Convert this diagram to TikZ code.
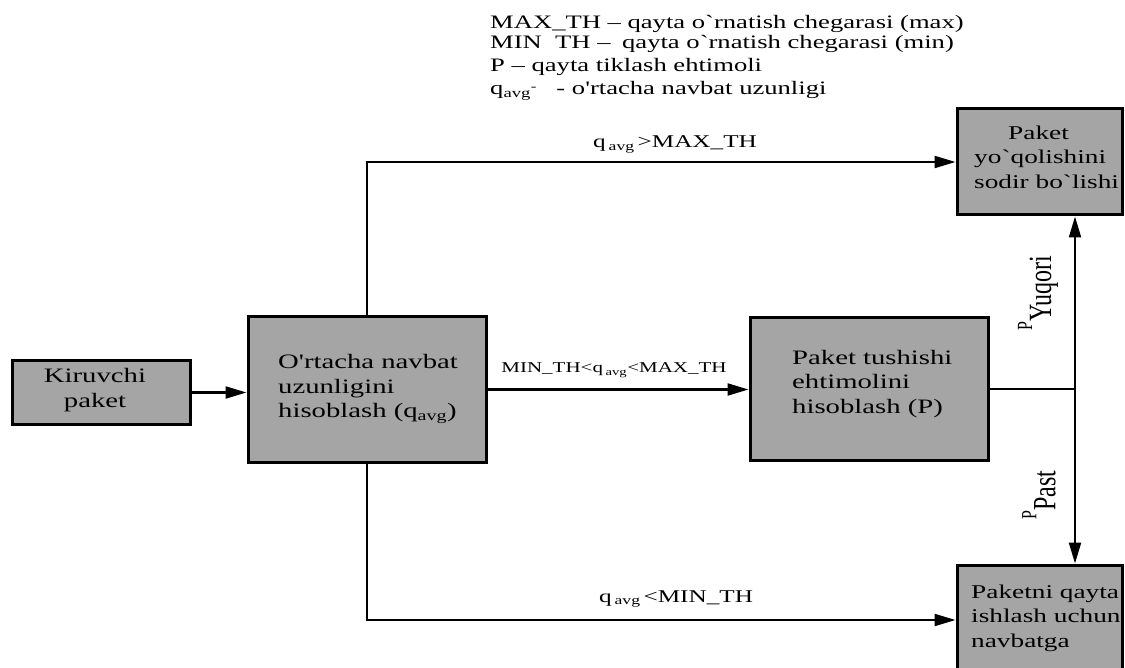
\documentclass[tikz,border=0pt]{standalone}
\usepackage{fontspec}
\usepackage{graphicx}
\setmainfont{Liberation Serif}[FakeStretch=1.4, Ligatures=TeXOff]
\newfontfamily\plainserif{Liberation Serif}[Ligatures=TeXOff]
\usetikzlibrary{arrows.meta}
\definecolor{boxgray}{RGB}{165,165,165}

\begin{document}
\begin{tikzpicture}[x=1pt, y=-1pt,
  box/.style={draw=black, line width=3pt, fill=boxgray, inner sep=0pt},
  boxtext/.style={inner sep=0pt, align=left, font=\fontsize{20.5}{24.5}\selectfont},
  sidetext/.style={boxtext, font=\fontsize{19.5}{24.5}\selectfont},
  legend/.style={inner sep=0pt, anchor=base west, font=\fontsize{19}{21}\selectfont},
  cond/.style={inner sep=0pt, anchor=base, font=\fontsize{18}{20}\selectfont},
  link/.style={line width=2.2pt},
  arr/.style={link, -{Triangle[length=21pt, width=12pt]}},
  problabel/.style={inner sep=0pt, rotate=90}
]
\path[use as bounding box, clip] (0,0) rectangle (1125,668);

% legend
\node[legend] (l1) at (490,29) {MAX\_TH – qayta o`rnatish chegarasi (max)};
\node[legend] (l2) at (490,49) {\makebox[132pt][l]{MIN\ \ TH –}qayta o`rnatish chegarasi (min)};
\node[legend] (l3) at (490,72) {P – qayta tiklash ehtimoli};
\node[legend] (l4) at (490,95) {q\textsubscript{avg}\raisebox{4pt}{\fontsize{12}{12}\selectfont -}\hspace{20pt}- o'rtacha navbat uzunligi};

% boxes
\node[box, minimum width=178pt, minimum height=63pt]  (k) at (101,392.5) {};
\node[box, minimum width=238pt, minimum height=145pt] (o) at (367,389.5) {};
\node[box, minimum width=238pt, minimum height=142pt] (p) at (869,389) {};
\node[box, minimum width=165pt, minimum height=106pt] (t) at (1039.5,162) {};
\node[box, minimum width=165pt, minimum height=110pt] (b) at (1039.5,620) {};

% box texts
\node[boxtext, align=center] (kt) at (95,390) {Kiruvchi\\paket};
\node[boxtext, anchor=west] (ot) at (278,389) {O'rtacha navbat\\uzunligini\\hisoblash (q\textsubscript{avg})};
\node[boxtext, anchor=west] (pt) at (792,384) {Paket tushishi\\ehtimolini\\hisoblash (P)};
\node[sidetext, anchor=west] (tt) at (974,157) {\hspace*{34pt}Paket\\yo`qolishini\\sodir bo`lishi};
\node[sidetext, anchor=west] (bt) at (971,618) {Paketni qayta\\ishlash uchun\\navbatga};

% connectors
\draw[arr] (k.east) -- (k.east -| o.west);
\draw[arr] (o.east) -- (o.east -| p.west);
\draw[arr] (o.north) -- (o.north |- t.west) -- (t.west);
\draw[arr] (o.south) -- (o.south |- b.west) -- (b.west);
\coordinate (j) at (1075,389);
\draw[link] (p.east) -- (j);
\draw[arr] (j) -- (j |- t.south);
\draw[arr] (j) -- (j |- b.north);

% condition labels
\node[cond] (c1) at (675,148) {q\,\textsubscript{avg}\,>MAX\_TH};
\node[cond, font=\fontsize{15}{17}\selectfont] (c2) at (614,373) {MIN\_TH<q\,\textsubscript{avg}<MAX\_TH};
\node[cond] (c3) at (676,602) {q\,\textsubscript{avg}\,<MIN\_TH};

% probability labels
\node[problabel] (py) at (1038,293)
  {\plainserif\scalebox{1}[1.35]{\fontsize{16}{16}\selectfont P\raisebox{-14pt}{\fontsize{24}{24}\selectfont Yuqori}}};
\node[problabel] (pp) at (1039,495)
  {\plainserif\scalebox{1}[1.35]{\fontsize{16}{16}\selectfont P\raisebox{-14pt}{\fontsize{24}{24}\selectfont Past}}};
\end{tikzpicture}
\end{document}
